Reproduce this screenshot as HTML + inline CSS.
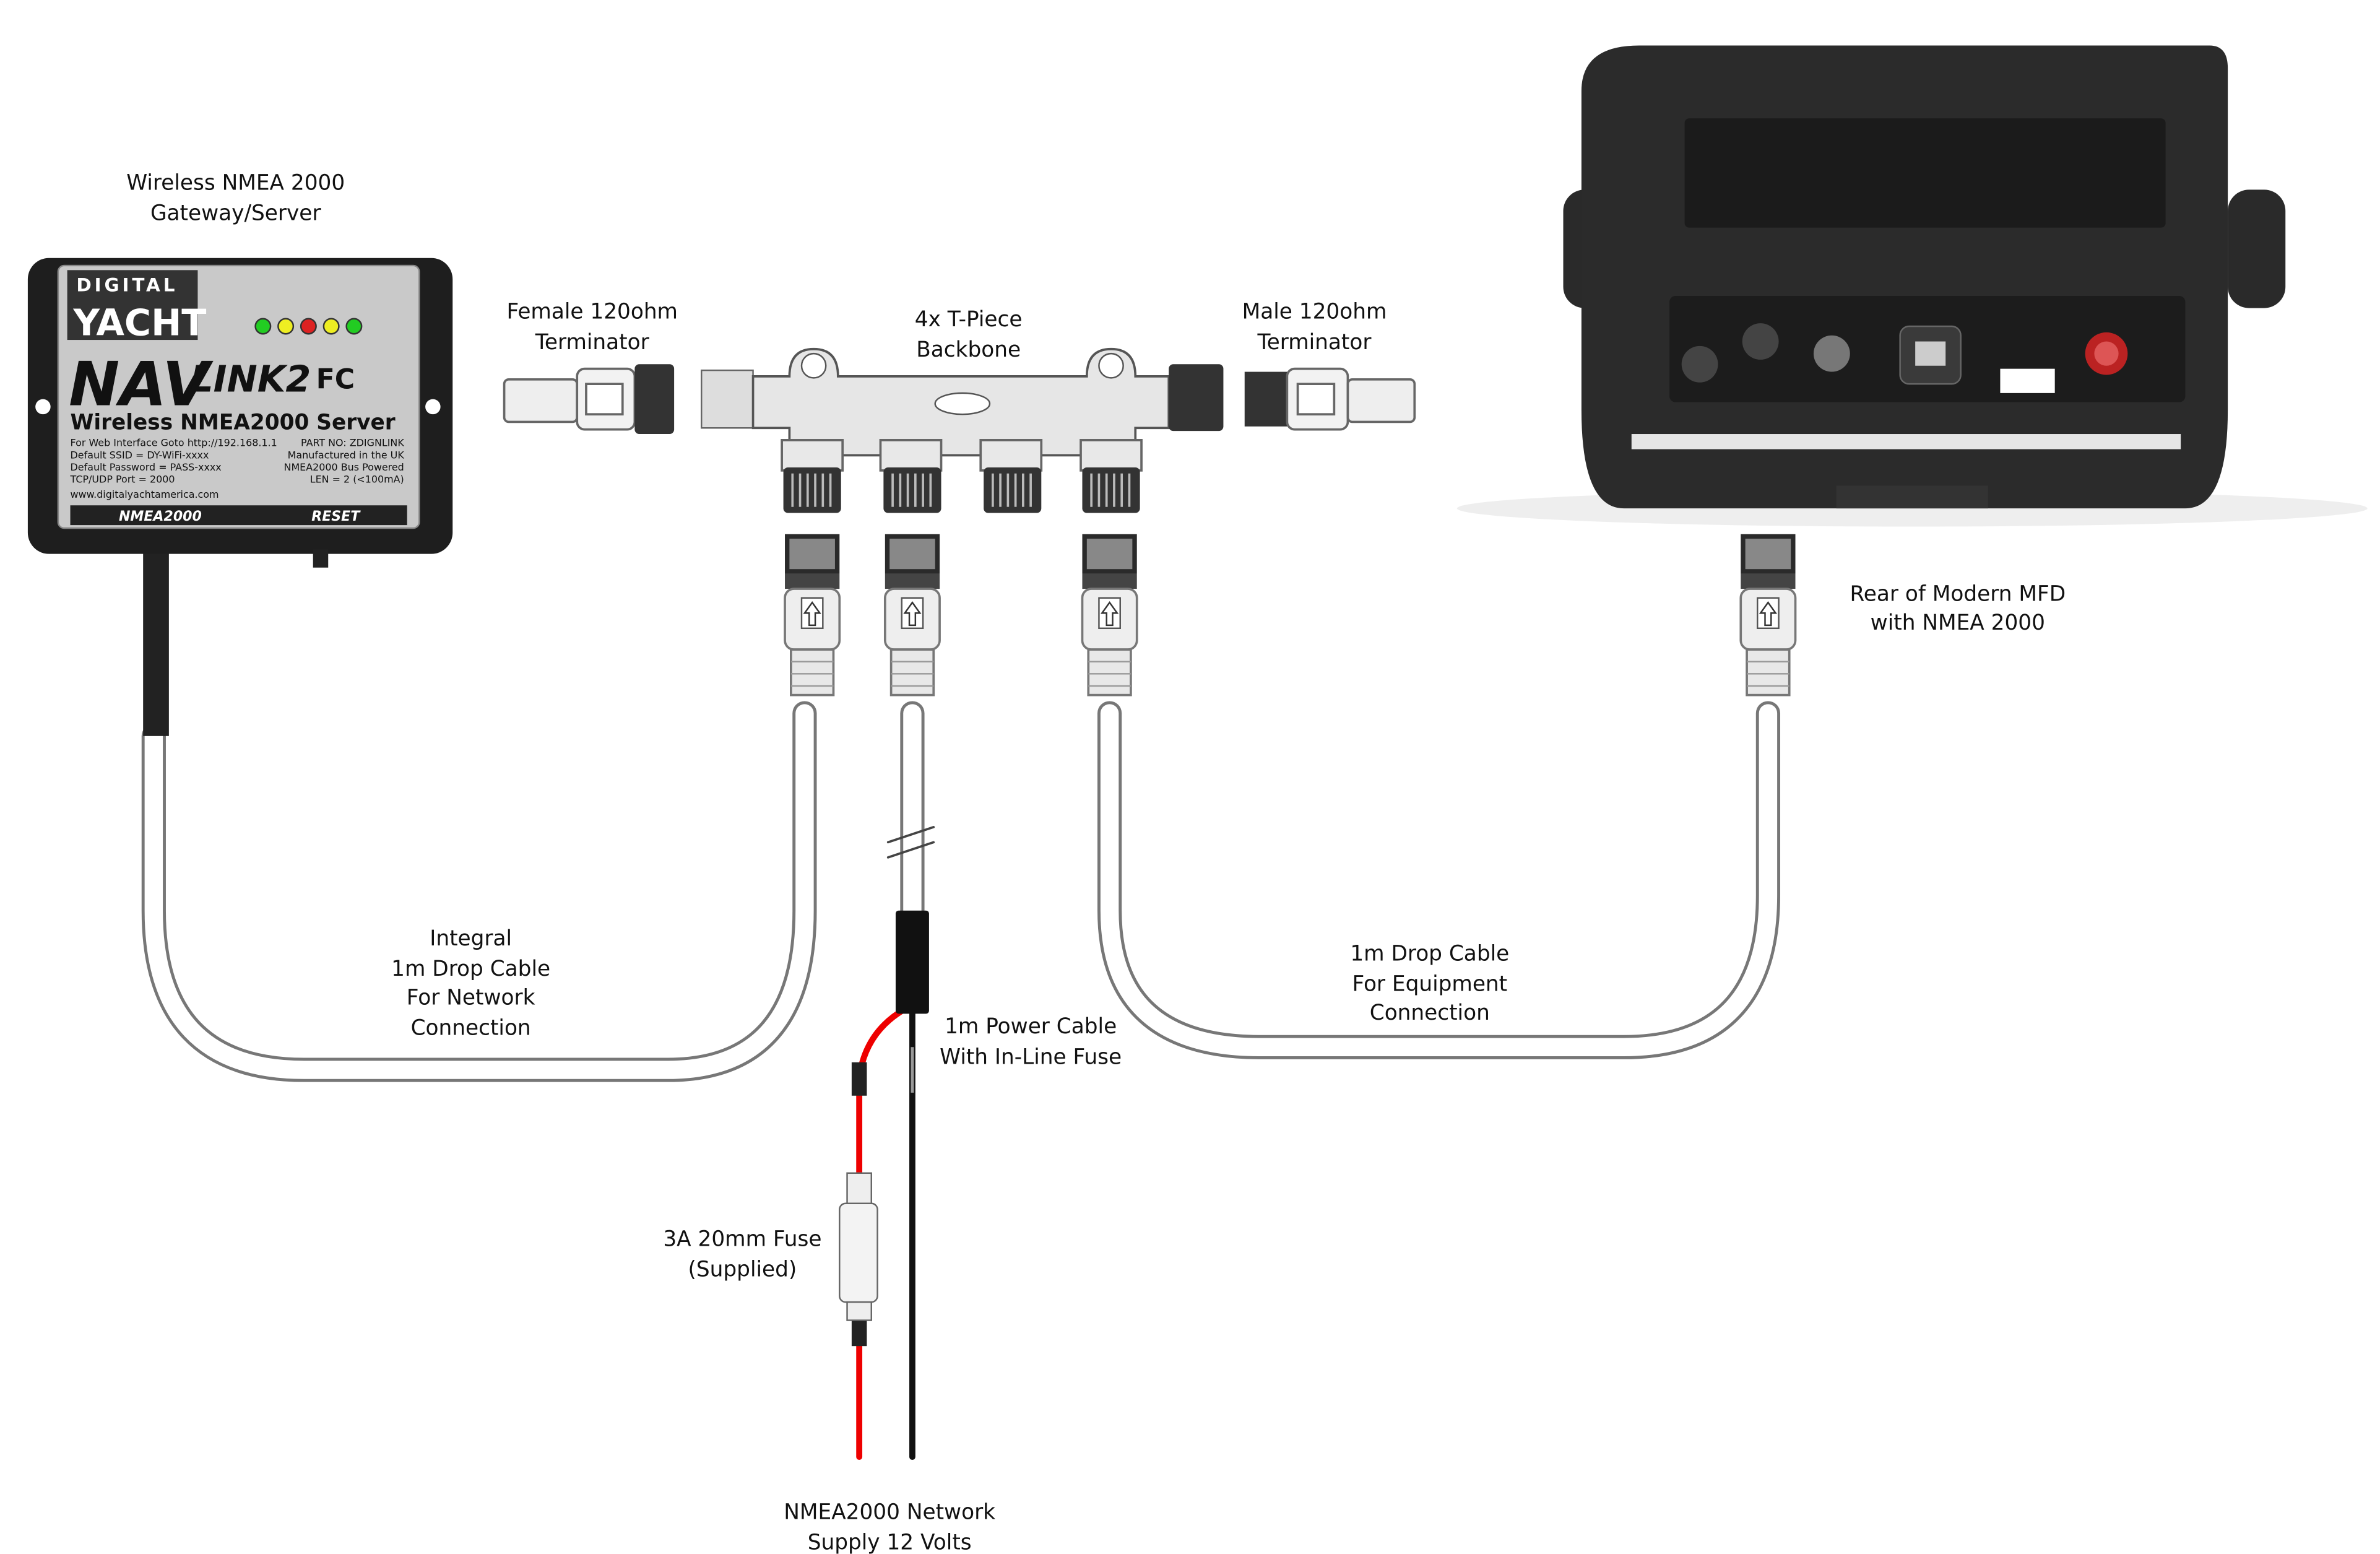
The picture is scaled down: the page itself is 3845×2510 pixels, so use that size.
<!DOCTYPE html>
<html><head><meta charset="utf-8"><style>
html,body{margin:0;padding:0;background:#fff;}
svg{display:block;}
text{font-family:"DejaVu Sans","Liberation Sans",sans-serif;fill:#111;}
</style></head><body>
<svg width="3845" height="2510" viewBox="0 0 1568 1024" xmlns="http://www.w3.org/2000/svg">
<defs>
<g id="conn">
 <rect x="-18" y="0" width="36" height="26" fill="#2a2a2a"/>
 <rect x="-15" y="3" width="30" height="20" fill="#888"/>
 <rect x="-18" y="26" width="36" height="10" fill="#444"/>
 <rect x="-18" y="36" width="36" height="40" rx="6" fill="#eee" stroke="#777" stroke-width="1.5"/>
 <rect x="-7" y="42" width="14" height="20" fill="#fff" stroke="#555"/>
 <path d="M0 45 L-5 52 L-2 52 L-2 60 L2 60 L2 52 L5 52Z" fill="none" stroke="#333"/>
 <rect x="-14" y="76" width="28" height="30" fill="#e8e8e8" stroke="#777" stroke-width="1.5"/>
 <line x1="-14" y1="84" x2="14" y2="84" stroke="#999"/><line x1="-14" y1="92" x2="14" y2="92" stroke="#999"/><line x1="-14" y1="100" x2="14" y2="100" stroke="#999"/>
</g>
<g id="nut">
 <rect x="-19" y="0" width="38" height="30" rx="3" fill="#333"/>
 <g stroke="#bbb" stroke-width="1.5"><line x1="-13" y1="4" x2="-13" y2="26"/><line x1="-8" y1="4" x2="-8" y2="26"/><line x1="-3" y1="4" x2="-3" y2="26"/><line x1="2" y1="4" x2="2" y2="26"/><line x1="7" y1="4" x2="7" y2="26"/><line x1="12" y1="4" x2="12" y2="26"/></g>
</g>
</defs>

<!-- labels -->
<g font-size="14" text-anchor="middle">
<text x="155" y="125">Wireless NMEA 2000</text><text x="155" y="145">Gateway/Server</text>
<text x="390" y="210">Female 120ohm</text><text x="390" y="230">Terminator</text>
<text x="638" y="215">4x T-Piece</text><text x="638" y="235">Backbone</text>
<text x="866" y="210">Male 120ohm</text><text x="866" y="230">Terminator</text>
<text x="1290" y="396">Rear of Modern MFD</text><text x="1290" y="415">with NMEA 2000</text>
<text x="310" y="623">Integral</text><text x="310" y="643">1m Drop Cable</text><text x="310" y="662">For Network</text><text x="310" y="682">Connection</text>
<text x="942" y="633">1m Drop Cable</text><text x="942" y="653">For Equipment</text><text x="942" y="672">Connection</text>
<text x="679" y="681">1m Power Cable</text><text x="679" y="701">With In-Line Fuse</text>
<text x="489" y="821">3A 20mm Fuse</text><text x="489" y="841">(Supplied)</text>
<text x="586" y="1001">NMEA2000 Network</text><text x="586" y="1021">Supply 12 Volts</text>
</g>

<!-- cables -->
<g fill="none" stroke-linecap="round">
<path d="M101 485 V600 Q101 705 200 705 H440 Q530 705 530 600 V470" stroke="#777" stroke-width="16"/>
<path d="M101 485 V600 Q101 705 200 705 H440 Q530 705 530 600 V470" stroke="#fff" stroke-width="12"/>
<path d="M731 470 V600 Q731 690 830 690 H1070 Q1165 690 1165 590 V470" stroke="#777" stroke-width="16"/>
<path d="M731 470 V600 Q731 690 830 690 H1070 Q1165 690 1165 590 V470" stroke="#fff" stroke-width="12"/>
<path d="M601 470 V600" stroke="#777" stroke-width="16"/>
<path d="M601 470 V600" stroke="#fff" stroke-width="12"/>
<path d="M585 555 L615 545 M585 565 L615 555" stroke="#444" stroke-width="1.5"/>
<path d="M596 665 Q570 680 566 710 V960" stroke="#e00" stroke-width="4"/>
<path d="M601 665 V960" stroke="#111" stroke-width="4"/>
</g>
<rect x="94" y="360" width="17" height="125" fill="#222"/>
<rect x="590" y="600" width="22" height="68" rx="2" fill="#111"/>
<rect x="561" y="700" width="10" height="22" fill="#222"/>
<rect x="561" y="865" width="10" height="22" fill="#222"/>
<!-- fuse -->
<rect x="558" y="773" width="16" height="20" fill="#eee" stroke="#666"/>
<rect x="553" y="793" width="25" height="65" rx="4" fill="#f3f3f3" stroke="#666"/>
<rect x="558" y="858" width="16" height="12" fill="#eee" stroke="#666"/>
<line x1="601" y1="690" x2="601" y2="720" stroke="#999" stroke-width="2"/>

<!-- gateway -->
<rect x="18" y="170" width="280" height="195" rx="14" fill="#1e1e1e"/>
<circle cx="28" cy="268" r="5" fill="#fff"/><circle cx="285" cy="268" r="5" fill="#fff"/>
<rect x="38" y="175" width="238" height="173" rx="4" fill="#c9c9c9" stroke="#888"/>
<rect x="44" y="178" width="86" height="46" fill="#333"/>
<text x="50" y="192" font-size="12" style="fill:#fff" font-weight="bold" letter-spacing="2">DIGITAL</text>
<text x="48" y="221" font-size="24" style="fill:#fff" font-weight="bold">YACHT</text>
<g stroke="#333"><circle cx="173" cy="215" r="5" fill="#2c2"/><circle cx="188" cy="215" r="5" fill="#ee2"/><circle cx="203" cy="215" r="5" fill="#d22"/><circle cx="218" cy="215" r="5" fill="#ee2"/><circle cx="233" cy="215" r="5" fill="#2c2"/></g>
<text x="45" y="267" font-size="40" font-weight="bold" style="fill:#111" font-style="italic">NAV</text>
<text x="125" y="258" font-size="24" font-weight="bold" font-style="italic">LINK2</text>
<text x="208" y="256" font-size="18" font-weight="bold">FC</text>
<text x="46" y="283" font-size="14" font-weight="bold">Wireless NMEA2000 Server</text>
<g font-size="6.5"><text x="46" y="294">For Web Interface Goto http://192.168.1.1</text><text x="46" y="302">Default SSID = DY-WiFi-xxxx</text><text x="46" y="310">Default Password = PASS-xxxx</text><text x="46" y="318">TCP/UDP Port = 2000</text><text x="46" y="328">www.digitalyachtamerica.com</text>
<g text-anchor="end"><text x="266" y="294">PART NO: ZDIGNLINK</text><text x="266" y="302">Manufactured in the UK</text><text x="266" y="310">NMEA2000 Bus Powered</text><text x="266" y="318">LEN = 2 (&lt;100mA)</text></g></g>
<rect x="46" y="333" width="222" height="13" fill="#222"/>
<text x="78" y="343" font-size="9" style="fill:#fff" font-weight="bold" font-style="italic">NMEA2000</text>
<text x="205" y="343" font-size="9" style="fill:#fff" font-weight="bold" font-style="italic">RESET</text>
<rect x="206" y="362" width="10" height="12" fill="#222"/>

<!-- female terminator -->
<g stroke="#666" stroke-width="1.5">
<rect x="332" y="250" width="48" height="28" rx="3" fill="#eee"/>
<rect x="380" y="243" width="38" height="40" rx="5" fill="#f2f2f2"/>
<rect x="386" y="253" width="24" height="20" fill="#fff"/>
</g>
<rect x="418" y="240" width="26" height="46" rx="3" fill="#333"/>
<!-- T-piece -->
<rect x="462" y="244" width="34" height="38" fill="#ddd" stroke="#666"/>
<path d="M496 248 H520 Q520 230 536 230 Q552 230 552 248 H716 Q716 230 732 230 Q748 230 748 248 H770 V282 H748 V290 H716 V290 L715 300 H683 V290 H650 V300 H618 V290 H585 V300 H553 V290 H520 V282 H496 Z" fill="#e6e6e6" stroke="#555" stroke-width="1.5"/>
<circle cx="536" cy="241" r="8" fill="#fff" stroke="#555"/><circle cx="732" cy="241" r="8" fill="#fff" stroke="#555"/>
<ellipse cx="634" cy="266" rx="18" ry="7" fill="#fff" stroke="#555"/>
<rect x="770" y="240" width="36" height="44" rx="3" fill="#333"/>
<g stroke="#666" stroke-width="1.5" fill="#e8e8e8">
<rect x="515" y="290" width="40" height="20"/><rect x="580" y="290" width="40" height="20"/><rect x="646" y="290" width="40" height="20"/><rect x="712" y="290" width="40" height="20"/>
</g>
<use href="#nut" x="535" y="308"/><use href="#nut" x="601" y="308"/><use href="#nut" x="667" y="308"/><use href="#nut" x="732" y="308"/>
<!-- male terminator -->
<rect x="820" y="245" width="28" height="36" fill="#333"/>
<g stroke="#666" stroke-width="1.5"><rect x="848" y="243" width="40" height="40" rx="5" fill="#f2f2f2"/><rect x="855" y="253" width="24" height="20" fill="#fff"/><rect x="888" y="250" width="44" height="28" rx="3" fill="#eee"/></g>
<!-- drop connectors -->
<use href="#conn" x="535" y="352"/><use href="#conn" x="601" y="352"/><use href="#conn" x="731" y="352"/><use href="#conn" x="1165" y="352"/>

<!-- MFD -->
<ellipse cx="1260" cy="335" rx="300" ry="12" fill="#eee"/>
<rect x="1030" y="125" width="32" height="78" rx="14" fill="#2a2a2a"/>
<rect x="1468" y="125" width="38" height="78" rx="14" fill="#2a2a2a"/>
<path d="M1080 30 H1456 Q1468 30 1468 45 V270 Q1468 335 1440 335 H1070 Q1042 335 1042 270 V60 Q1042 30 1080 30 Z" fill="#2b2b2b"/>
<rect x="1110" y="78" width="317" height="72" rx="3" fill="#1b1b1b"/>
<rect x="1100" y="195" width="340" height="70" rx="4" fill="#1c1c1c"/>
<rect x="1075" y="286" width="362" height="10" fill="#e6e6e6"/>
<rect x="1252" y="215" width="40" height="38" rx="6" fill="#3a3a3a" stroke="#666"/>
<rect x="1262" y="225" width="20" height="16" fill="#ccc"/>
<circle cx="1207" cy="233" r="12" fill="#777"/><circle cx="1160" cy="225" r="12" fill="#444"/><circle cx="1120" cy="240" r="12" fill="#444"/>
<circle cx="1388" cy="233" r="14" fill="#b22"/><circle cx="1388" cy="233" r="8" fill="#d55"/>
<rect x="1318" y="243" width="36" height="16" fill="#fff"/>
<rect x="1210" y="320" width="100" height="15" fill="#333"/>
</svg>
</body></html>
